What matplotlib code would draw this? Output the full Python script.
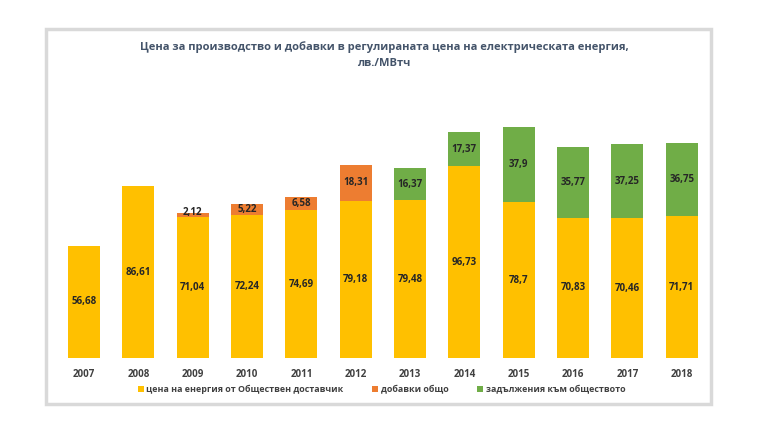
import matplotlib.pyplot as plt
from matplotlib.patches import Rectangle
import numpy as np

plt.rcParams['font.family'] = ['Open Sans', 'DejaVu Sans']

years = ["2007", "2008", "2009", "2010", "2011", "2012", "2013", "2014", "2015", "2016", "2017", "2018"]
supplier = [56.68, 86.61, 71.04, 72.24, 74.69, 79.18, 79.48, 96.73, 78.7, 70.83, 70.46, 71.71]
additions = [0, 0, 2.12, 5.22, 6.58, 18.31, 0, 0, 0, 0, 0, 0]
obligations = [0, 0, 0, 0, 0, 0, 16.37, 17.37, 37.9, 35.77, 37.25, 36.75]

names = ["цена на енергия от Обществен доставчик", "добавки общо", "задължения към обществото"]
colors = ["#FFC000", "#ED7D31", "#70AD47"]

def fmt(v):
    return ("%g" % v).replace(".", ",")

fig = plt.figure(figsize=(7.68, 4.32), dpi=100)
# gray frame around the chart
fig.patches.append(Rectangle((0.06, 0.065), 0.866, 0.868, transform=fig.transFigure,
                             fill=False, edgecolor="#d9d9d9", linewidth=2.5))

ax = fig.add_axes([0.074, 0.171, 0.849, 0.574])
x = np.arange(len(years))
w = 0.59
b1 = ax.bar(x, supplier, w, color=colors[0], label=names[0])
b2 = ax.bar(x, additions, w, bottom=supplier, color=colors[1], label=names[1])
b3 = ax.bar(x, obligations, w, bottom=supplier, color=colors[2], label=names[2])

for i in range(len(years)):
    ax.text(x[i], supplier[i] / 2, fmt(supplier[i]), ha="center", va="center",
            fontsize=7, fontweight="bold", color="#262626")
    if additions[i] > 0:
        ax.text(x[i], supplier[i] + max(additions[i] / 2, 2.2), fmt(additions[i]), ha="center",
                va="center", fontsize=7, fontweight="bold", color="#262626")
    if obligations[i] > 0:
        ax.text(x[i], supplier[i] + obligations[i] / 2, fmt(obligations[i]), ha="center",
                va="center", fontsize=7, fontweight="bold", color="#262626")

ax.set_xlim(-0.5, len(years) - 0.5)
ax.set_ylim(0, 125)
ax.set_xticks(x)
ax.set_xticklabels(years, fontsize=7, color="#404040", fontweight="bold")
ax.tick_params(axis="x", length=0, pad=8)
ax.set_yticks([])
for s in ax.spines.values():
    s.set_visible(False)

fig.text(0.5, 0.873, "Цена за производство и добавки в регулираната цена на електрическата енергия,\nлв./МВтч",
         ha="center", va="center", fontsize=8, fontweight="bold", color="#44546A", linespacing=1.6)

leg = fig.legend(handles=[b1, b2, b3], loc="center", bbox_to_anchor=(0.497, 0.098), ncol=3,
                 frameon=False, fontsize=6.4, handlelength=0.7, handleheight=0.7,
                 handletextpad=0.3, columnspacing=3.2)
for t in leg.get_texts():
    t.set_fontweight("bold")
    t.set_color("#404040")

plt.savefig("out.png", dpi=100)
